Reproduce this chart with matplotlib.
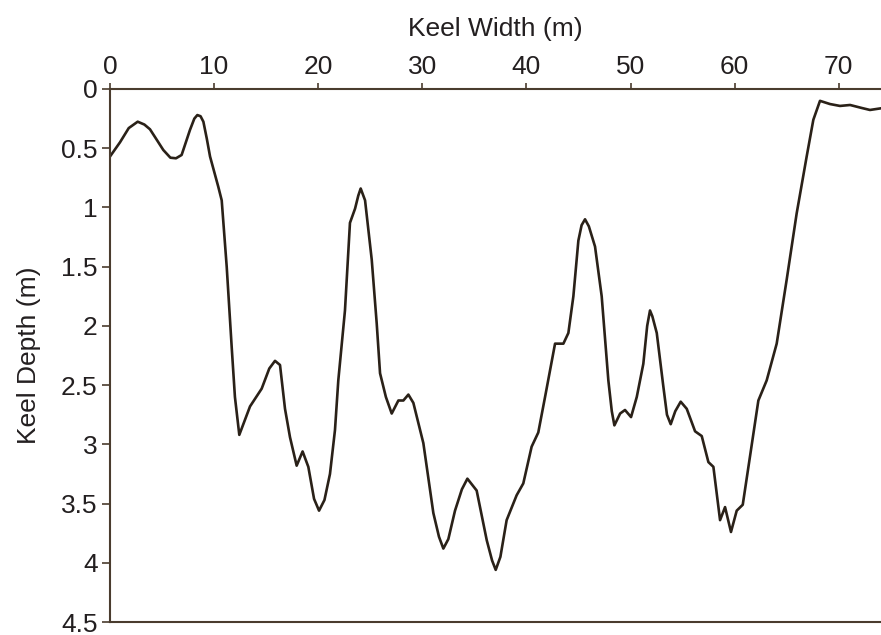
import matplotlib
matplotlib.use("Agg")
import matplotlib.pyplot as plt

# Профиль киля: ширина (м) и глубина (м)
width = [0.0, 0.96, 1.8, 2.66, 3.3, 3.84, 4.5, 5.12, 5.8, 6.34, 6.88, 7.68, 8.1, 8.39, 8.7,
         8.97, 9.3, 9.61, 10.4, 10.73, 11.21, 11.69, 12.0, 12.42, 13.45, 14.57, 15.3, 15.85,
         16.33, 16.81, 17.29, 17.93, 18.5, 19.05, 19.6, 20.08, 20.6, 21.13, 21.61, 21.93,
         22.57, 23.05, 23.54, 23.85, 24.08, 24.5, 25.14, 25.62, 25.94, 26.5, 27.06, 27.7,
         28.18, 28.66, 29.14, 30.1, 31.06, 31.6, 32.02, 32.5, 33.14, 33.8, 34.33, 35.22,
         36.19, 36.7, 37.05, 37.5, 38.1, 39.06, 39.7, 40.5, 41.14, 41.79, 42.75, 43.55,
         44.03, 44.51, 44.99, 45.3, 45.63, 46.0, 46.59, 47.23, 47.87, 48.2, 48.45, 49.0,
         49.47, 50.05, 50.6, 51.23, 51.6, 51.87, 52.1, 52.52, 53.15, 53.5, 53.86, 54.3,
         54.82, 55.4, 56.2, 56.84, 57.48, 57.96, 58.6, 59.08, 59.65, 60.2, 60.78, 61.48,
         62.28, 63.08, 64.04, 65.0, 65.96, 66.92, 67.56, 68.2, 69.16, 70.12, 71.09, 72.2,
         73.0, 74.06]
depth = [0.57, 0.45, 0.33, 0.276, 0.3, 0.34, 0.43, 0.515, 0.58, 0.585, 0.557, 0.346, 0.25, 0.22, 0.23,
         0.276, 0.42, 0.57, 0.825, 0.94, 1.5, 2.18, 2.6, 2.92, 2.68, 2.53, 2.36, 2.295,
         2.33, 2.7, 2.94, 3.18, 3.06, 3.19, 3.46, 3.56, 3.47, 3.25, 2.88, 2.46,
         1.87, 1.13, 1.01, 0.9, 0.84, 0.94, 1.44, 1.98, 2.4, 2.6, 2.74, 2.63,
         2.63, 2.58, 2.65, 2.99, 3.58, 3.78, 3.88, 3.8, 3.56, 3.38, 3.29, 3.39,
         3.81, 3.98, 4.06, 3.95, 3.64, 3.43, 3.33, 3.02, 2.9, 2.6, 2.15, 2.15,
         2.06, 1.75, 1.28, 1.15, 1.1, 1.16, 1.33, 1.75, 2.46, 2.72, 2.84, 2.74,
         2.71, 2.77, 2.6, 2.32, 2.0, 1.87, 1.92, 2.06, 2.51, 2.75, 2.83, 2.72,
         2.64, 2.7, 2.89, 2.93, 3.15, 3.19, 3.64, 3.53, 3.74, 3.56, 3.51, 3.1,
         2.63, 2.46, 2.15, 1.61, 1.05, 0.57, 0.26, 0.1, 0.127, 0.143, 0.135, 0.16,
         0.177, 0.163]

x_ticks = [0, 10, 20, 30, 40, 50, 60, 70]
y_ticks = [0, 0.5, 1, 1.5, 2, 2.5, 3, 3.5, 4, 4.5]
y_labels = ['0', '0.5', '1', '1.5', '2', '2.5', '3', '3.5', '4', '4.5']

plt.rcParams['font.family'] = ['Liberation Sans', 'DejaVu Sans']
axis_color = '#4a3c2e'
text_color = '#231f20'

fig = plt.figure(figsize=(8.81, 6.35), dpi=100)
ax = fig.add_axes([110 / 881, 1 - 622 / 635, 1 - 110 / 881, (622 - 89) / 635])

# Рисуем профиль
ax.plot(width, depth, color='#2a2118', linewidth=1.9, solid_joinstyle='round')

ax.set_xlim(0, 74.06)
ax.set_ylim(4.5, 0)

ax.xaxis.tick_top()
ax.xaxis.set_label_position('top')
ax.set_xticks(x_ticks)
ax.set_yticks(y_ticks)
ax.set_yticklabels(y_labels)

ax.spines['right'].set_visible(False)
for side in ['left', 'top', 'bottom']:
    ax.spines[side].set_color(axis_color)
    ax.spines[side].set_linewidth(1.5)

ax.tick_params(axis='x', direction='out', length=4, width=1.2, color=axis_color,
               labelsize=19, labelcolor=text_color, pad=3)
ax.tick_params(axis='y', direction='out', length=6, width=1.2, color=axis_color,
               labelsize=19, labelcolor=text_color, pad=3)

# Подписываем оси
ax.set_xlabel('Keel Width (m)', fontsize=19, color=text_color, labelpad=14)
ax.set_ylabel('Keel Depth (m)', fontsize=19, color=text_color, labelpad=14)

fig.savefig('out.png', dpi=100)
